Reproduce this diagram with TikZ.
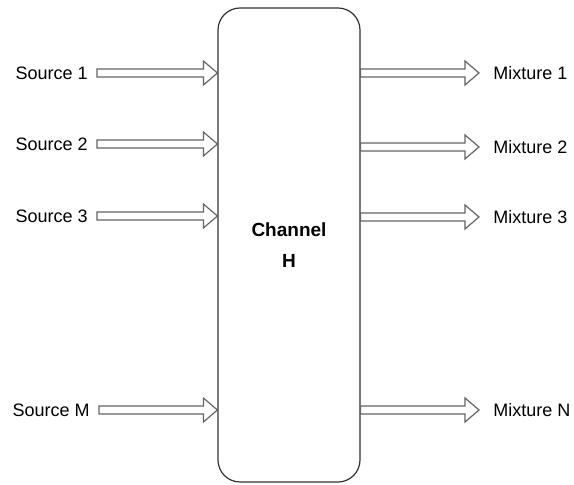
\documentclass[tikz,border=0pt]{standalone}
\usepackage{fontspec}
\setmainfont{Liberation Sans}
\usetikzlibrary{calc,positioning}
\definecolor{edgegray}{RGB}{100,100,100}
\definecolor{boxgray}{RGB}{50,50,50}
\tikzset{
  lbl/.style={inner sep=0pt, font=\fontsize{9}{11}\selectfont},
  chan/.style={draw=boxgray, line width=0.6pt, rounded corners=11pt,
    minimum width=71pt, minimum height=237pt, align=center,
    font=\fontsize{9.5}{15.5}\selectfont\bfseries},
  fat/.style={draw=edgegray, line width=0.6pt, fill=white, line join=miter}
}
% outlined block arrow from #1 to tip #2
\newcommand{\fatarrow}[2]{%
  \draw[fat] ($(#1)+(0,-4)$) -- ($(#2)+(-14,-4)$) -- ($(#2)+(-14,-12)$)
    -- (#2) -- ($(#2)+(-14,12)$) -- ($(#2)+(-14,4)$) -- ($(#1)+(0,4)$) -- cycle;}

\begin{document}
\begin{tikzpicture}[x=0.5pt,y=-0.5pt]
  \useasboundingbox (0,0) rectangle (574,485);
  % Channel block
  \node[chan] (chan) at (289,245) {Channel\\H};
  % Sources
  \node[lbl, anchor=east] (s1) at (88,73) {Source 1};
  \node[lbl, anchor=east] (s2) at (88,144) {Source 2};
  \node[lbl, anchor=east] (s3) at (88,216) {Source 3};
  \node[lbl, anchor=east] (sM) at (90,410) {Source M};
  % Mixtures
  \node[lbl, anchor=west] (m1) at (493,73) {Mixture 1};
  \node[lbl, anchor=west] (m2) at (493,147) {Mixture 2};
  \node[lbl, anchor=west] (m3) at (493,217) {Mixture 3};
  \node[lbl, anchor=west] (mN) at (493,410) {Mixture N};
  % Input arrows
  \foreach \s in {s1,s2,s3,sM}{
    \coordinate (in-\s) at ([xshift=4.5pt]\s.east);
    \fatarrow{in-\s}{chan.west |- \s}
  }
  % Output arrows
  \foreach \m in {m1,m2,m3,mN}{
    \coordinate (out-\m) at ([xshift=-7pt]\m.west);
    \fatarrow{chan.east |- \m}{out-\m}
  }
\end{tikzpicture}
\end{document}
